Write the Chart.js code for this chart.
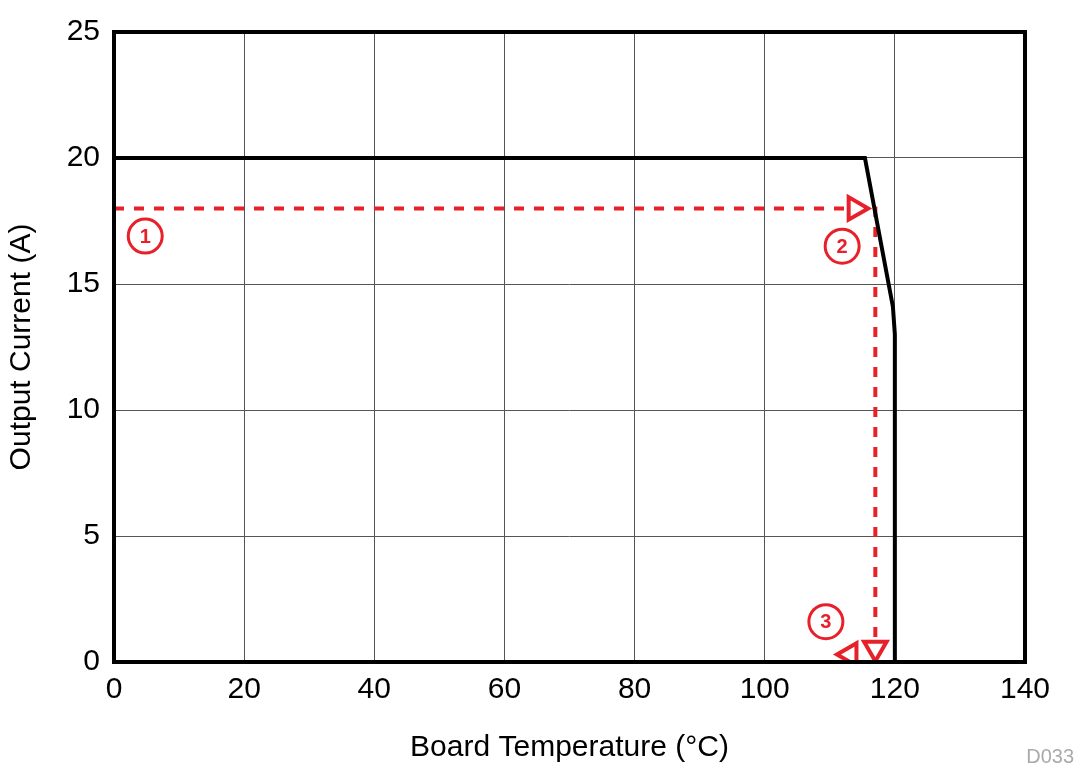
<!DOCTYPE html>
<html><head><meta charset="utf-8">
<script src="https://cdn.jsdelivr.net/npm/chart.js@4/dist/chart.umd.min.js"></script>
<style>html,body{margin:0;background:#fff}#c{display:block}</style>
</head><body>
<canvas id="c" width="1078" height="770"></canvas>
<script>
// derating curve
var curveX = [0, 115.4, 119.7, 120, 120];
var curveY = [20, 20, 14.1, 13, 0];
// red dotted example path
var pathX = [0, 117, 117];
var pathY = [18, 18, 0.3];
// arrow heads
var arrowX = [113.9, 117, 113.1];
var arrowY = [18, 0.55, 0.3];
var arrowRot = [90, 180, 270];
// numbered circle markers
var markX = [4.8, 111.9, 109.4];
var markY = [16.9, 16.5, 1.6];
var markText = ["1", "2", "3"];

function pts(xs, ys) { return xs.map(function (x, i) { return { x: x, y: ys[i] }; }); }

var markLabels = {
  id: "markLabels",
  afterDatasetsDraw: function (chart) {
    var ctx = chart.ctx, xs = chart.scales.x, ys = chart.scales.y;
    ctx.save();
    ctx.fillStyle = "#e8202a";
    ctx.font = "bold 20px 'Liberation Sans', Arial";
    ctx.textAlign = "center"; ctx.textBaseline = "middle";
    markText.forEach(function (t, i) {
      ctx.fillText(t, xs.getPixelForValue(markX[i]), ys.getPixelForValue(markY[i]) + 1);
    });
    ctx.fillStyle = "#aaa";
    ctx.font = "20px 'Liberation Sans', Arial";
    ctx.textAlign = "right"; ctx.textBaseline = "alphabetic";
    ctx.fillText("D033", 1074, 763);
    // plot frame
    var a = chart.chartArea;
    ctx.strokeStyle = "#000"; ctx.lineWidth = 4;
    ctx.strokeRect(a.left, a.top, a.right - a.left, a.bottom - a.top);
    ctx.restore();
  }
};

new Chart(document.getElementById("c"), {
  type: "scatter",
  data: {
    datasets: [
      { data: pts(pathX, pathY), showLine: true, borderColor: "#e8202a", borderWidth: 4,
        borderDash: [10, 10], pointRadius: 0, order: 2 },
      { data: pts(curveX, curveY), showLine: true, borderColor: "#000", borderWidth: 4,
        pointRadius: 0, order: 1 },
      { data: pts(arrowX, arrowY), pointStyle: "triangle", rotation: arrowRot, pointRadius: 13,
        borderColor: "#e8202a", borderWidth: 4, backgroundColor: "#fff", order: 0 },
      { data: pts(markX, markY), pointStyle: "circle", pointRadius: 17,
        borderColor: "#e8202a", borderWidth: 3, backgroundColor: "#fff", order: 0 }
    ]
  },
  options: {
    responsive: false, animation: false,
    layout: { padding: { top: 2, right: 53, left: 0, bottom: 0 } },
    plugins: { legend: { display: false }, tooltip: { enabled: false } },
    scales: {
      x: { min: 0, max: 140,
        ticks: { stepSize: 20, color: "#000", font: { size: 30, family: "'Liberation Sans', Arial" }, padding: 10, maxRotation: 0 },
        grid: { color: "#555", lineWidth: 1, drawTicks: false },
        border: { display: false },
        title: { display: true, text: "Board Temperature (°C)", color: "#000", padding: { top: 0 },
          font: { size: 30, family: "'Liberation Sans', Arial" } },
        afterFit: function (s) { s.height = 108; } },
      y: { min: 0, max: 25,
        ticks: { stepSize: 5, color: "#000", font: { size: 30, family: "'Liberation Sans', Arial" }, padding: 14 },
        grid: { color: "#555", lineWidth: 1, drawTicks: false },
        border: { display: false },
        title: { display: true, text: "Output Current (A)", color: "#000", padding: { bottom: 2 },
          font: { size: 30, family: "'Liberation Sans', Arial" } },
        afterFit: function (s) { s.width = 114; } }
    }
  },
  plugins: [markLabels]
});
</script>
</body></html>
